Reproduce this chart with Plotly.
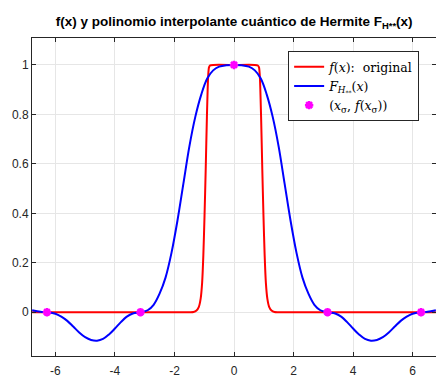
import plotly.graph_objects as go

# ---- data ----
red_x = [-6.78, -1.46, -1.36, -1.26, -1.18, -1.12, -1.07, -1.03, -0.99, -0.95, -0.91, -0.87, -0.84, -0.80, -0.70, 0.0,
         0.70, 0.80, 0.84, 0.87, 0.91, 0.95, 0.99, 1.03, 1.07, 1.12, 1.18, 1.26, 1.36, 1.46, 6.78]
red_y = [0.0, 0.0, 0.001, 0.007, 0.022, 0.055, 0.12, 0.23, 0.39, 0.58, 0.79, 0.95, 0.99, 0.998, 1.0, 1.0,
         1.0, 0.998, 0.99, 0.95, 0.79, 0.58, 0.39, 0.23, 0.12, 0.055, 0.022, 0.007, 0.001, 0.0, 0.0]

blue_x = [-6.78, -6.5, -6.28, -6.0, -5.8, -5.6, -5.4, -5.2, -5.0, -4.8, -4.6, -4.4, -4.2, -4.0, -3.8, -3.6, -3.4,
          -3.14, -2.9, -2.7, -2.5, -2.3, -2.1, -1.9, -1.7, -1.5, -1.3, -1.1, -0.9, -0.7, -0.5, -0.25, 0.0,
          0.25, 0.5, 0.7, 0.9, 1.1, 1.3, 1.5, 1.7, 1.9, 2.1, 2.3, 2.5, 2.7, 2.9, 3.14,
          3.4, 3.6, 3.8, 4.0, 4.2, 4.4, 4.6, 4.8, 5.0, 5.2, 5.4, 5.6, 5.8, 6.0, 6.28, 6.5, 6.78]
blue_y = [0.008, 0.002, 0.0, -0.006, -0.018, -0.035, -0.058, -0.082, -0.101, -0.112, -0.115, -0.108, -0.090,
          -0.066, -0.040, -0.018, -0.005, 0.0, 0.008, 0.03, 0.075, 0.14, 0.24, 0.37, 0.52, 0.67, 0.79, 0.88,
          0.945, 0.978, 0.993, 0.999, 1.0,
          0.999, 0.993, 0.978, 0.945, 0.88, 0.79, 0.67, 0.52, 0.37, 0.24, 0.14, 0.075, 0.03, 0.008, 0.0,
          -0.005, -0.018, -0.040, -0.066, -0.090, -0.108, -0.115, -0.112, -0.101, -0.082, -0.058, -0.035,
          -0.018, -0.006, 0.0, 0.002, 0.008]

node_x = [-6.2832, -3.1416, 0.0, 3.1416, 6.2832]
node_y = [0.0, 0.0, 1.0, 0.0, 0.0]

x_ticks = [-6, -4, -2, 0, 2, 4, 6]
x_tick_text = ["-6", "-4", "-2", "0", "2", "4", "6"]
y_ticks = [0, 0.2, 0.4, 0.6, 0.8, 1]
y_tick_text = ["0", "0.2", "0.4", "0.6", "0.8", "1"]

title_text = "<b>f(x) y polinomio interpolante cuántico de Hermite F<sub>H**</sub>(x)</b>"
names = ["<i>f</i>(<i>x</i>):  original",
         "<i>F</i><sub><i>H</i><sub>**</sub></sub>(<i>x</i>)",
         "(<i>x</i><sub>σ</sub>, <i>f</i>(<i>x</i><sub>σ</sub>))"]

fig = go.Figure()
fig.add_trace(go.Scatter(x=red_x, y=red_y, mode="lines", name=names[0],
                         line=dict(color="#ff0000", width=2, shape="spline", smoothing=0.6)))
fig.add_trace(go.Scatter(x=blue_x, y=blue_y, mode="lines", name=names[1],
                         line=dict(color="#0000ff", width=2, shape="spline", smoothing=1)))
fig.add_trace(go.Scatter(x=node_x, y=node_y, mode="markers", name=names[2],
                         marker=dict(symbol="asterisk-open", size=7, color="#ff00ff",
                                     line=dict(color="#ff00ff", width=2.5))))

axis_common = dict(showgrid=True, gridcolor="#e6e6e6", gridwidth=1, zeroline=False,
                   showline=True, linecolor="#262626", linewidth=1, mirror="ticks",
                   ticks="inside", ticklen=4, tickcolor="#262626", tickwidth=1,
                   tickfont=dict(family="Liberation Sans, Arial, sans-serif", size=12, color="#262626"))

fig.update_layout(
    width=436, height=379,
    margin=dict(l=32, r=0, t=38, b=23),
    paper_bgcolor="white", plot_bgcolor="white",
    title=dict(text=title_text, x=0.537, xanchor="center", y=0.943, yanchor="middle",
               font=dict(family="Liberation Sans, Arial, sans-serif", size=13.5, color="#000000")),
    xaxis=dict(range=[-6.785, 6.785], tickvals=x_ticks, ticktext=x_tick_text,
               ticklabelstandoff=4, **axis_common),
    yaxis=dict(range=[-0.177, 1.109], tickvals=y_ticks, ticktext=y_tick_text, **axis_common),
    legend=dict(x=0.634, y=0.959, xanchor="left", yanchor="top",
                bgcolor="white", bordercolor="#262626", borderwidth=1,
                font=dict(family="DejaVu Serif, Liberation Serif, serif", size=12.5, color="#000000"),
                tracegroupgap=0, itemwidth=30),
    showlegend=True,
)

fig.write_html("out.html")
